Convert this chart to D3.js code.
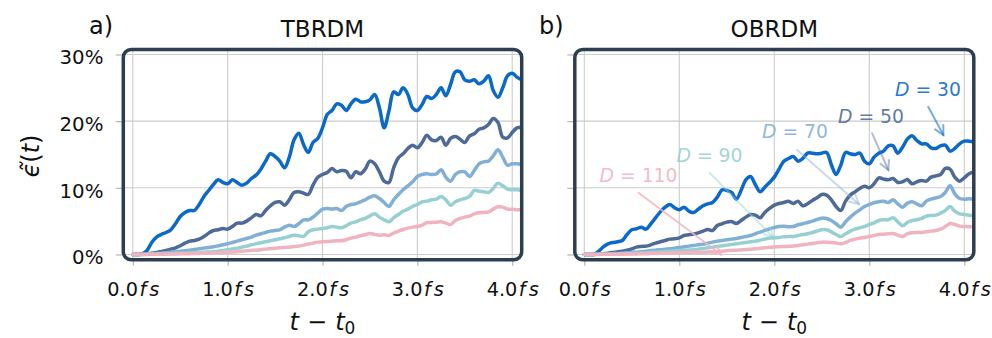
<!DOCTYPE html>
<html>
<head>
<meta charset="utf-8">
<script src="https://cdn.jsdelivr.net/npm/d3@7"></script>
<style>
  body { margin: 0; background: #fff; }
  svg { display: block; font-family: "DejaVu Sans", sans-serif; }
</style>
</head>
<body>
<svg id="chart" width="992" height="338"></svg>
<script>
// ---- data -------------------------------------------------------------
// sampling grid of the propagation, t - t0 in fs
const tStep = 0.05;
const timeFs = d3.range(83).map(i => +(i * tStep).toFixed(2));

const xTickValues = [0, 1, 2, 3, 4];
const yTickValues = [0, 10, 20, 30];
const dLabels = [30, 50, 70, 90, 110];
const lineColors = ["#0a69c9", "#4d6a99", "#82afd6", "#97d0d2", "#f0b4c1"];

// relative error (%) for the TBRDM propagation
const tbrdmD30 = [0,0,0.1,0.6,1.8,2.6,3.0,3.3,3.7,4.6,
  5.7,6.3,6.6,6.6,7.5,8.7,9.6,10.5,11.2,10.8,
  10.6,11.2,10.8,10.4,10.7,11.4,11.9,12.8,14.0,15.1,
  14.7,14.0,13.0,14.6,17.2,18.2,16.5,15.3,16.8,17.4,
  19.0,21.0,21.6,22.6,22.4,21.6,22.6,23.3,22.9,22.9,
  23.2,24.0,22.0,19.0,21.5,24.4,24.0,25.0,24.0,22.0,
  21.6,22.5,23.7,23.4,24.0,25.0,23.8,25.5,27.4,27.4,
  26.2,26.0,26.2,25.6,26.0,26.8,24.6,23.6,25.0,26.8,
  27.2,26.6,26.2];
const tbrdmD50 = [0,0,0.05,0.1,0.2,0.3,0.45,0.6,0.8,1.0,
  1.3,1.7,2.0,2.1,2.3,2.7,3.2,3.6,3.7,3.9,
  3.8,4.2,4.7,4.7,5.0,5.5,6.0,5.8,6.6,7.3,
  7.8,7.9,7.4,8.2,9.3,9.4,9.2,9.0,10.4,11.6,
  12.0,12.3,12.9,12.4,12.6,12.5,11.5,12.4,12.1,12.8,
  14.0,13.6,12.4,11.0,10.8,13.0,14.5,15.1,15.9,16.4,
  16.0,16.8,17.9,17.2,17.1,17.6,16.4,17.4,17.7,17.3,
  16.8,17.8,18.1,18.8,19.0,19.5,20.4,19.8,17.6,17.5,
  18.3,19.0,19.1];
const tbrdmD70 = [0,0,0.02,0.05,0.09,0.14,0.2,0.26,0.33,0.4,
  0.48,0.56,0.65,0.75,0.85,0.95,1.05,1.15,1.3,1.45,
  1.6,1.8,2.0,2.2,2.4,2.6,2.9,3.1,3.3,3.5,
  3.6,3.7,4.1,4.4,4.2,4.6,5.2,5.2,5.6,6.2,
  6.8,6.9,6.8,6.9,6.6,7.2,7.5,7.6,7.9,8.2,
  8.6,8.8,8.4,7.8,7.2,8.2,9.0,9.7,10.3,10.9,
  11.7,12.0,12.1,12.0,12.1,12.7,11.6,11.0,12.0,12.4,
  12.4,11.7,12.6,13.6,13.9,14.0,14.8,15.7,14.6,13.4,
  13.6,13.6,13.5];
const tbrdmD90 = [0,0,0.01,0.02,0.03,0.05,0.07,0.09,0.11,0.14,
  0.17,0.2,0.23,0.27,0.3,0.33,0.37,0.42,0.5,0.6,
  0.7,0.82,0.95,1.1,1.25,1.45,1.6,1.75,1.9,2.05,
  2.2,2.35,2.5,2.7,2.9,2.8,2.7,3.4,3.7,3.8,
  3.9,4.0,4.2,4.1,4.0,4.3,4.7,4.9,5.2,5.4,
  5.8,6.1,5.6,5.2,4.9,5.5,6.0,6.5,6.8,7.2,
  7.5,7.9,8.0,8.2,8.3,8.7,8.2,7.4,7.9,8.2,
  8.4,8.7,9.6,9.5,9.4,9.3,9.9,10.7,10.3,9.8,
  9.7,9.7,9.6];
const tbrdmD110 = [0,0,0.01,0.01,0.02,0.03,0.04,0.05,0.06,0.07,
  0.09,0.1,0.12,0.14,0.16,0.18,0.2,0.23,0.26,0.3,
  0.33,0.37,0.42,0.48,0.54,0.6,0.65,0.72,0.8,0.87,
  0.93,1.0,1.05,1.1,1.18,1.26,1.4,1.55,1.7,1.85,
  1.9,1.95,2.0,2.05,2.05,2.2,2.45,2.6,2.8,2.95,
  3.15,3.0,2.9,2.95,2.85,3.2,3.5,3.75,3.95,4.1,
  4.2,4.4,4.75,4.8,4.85,4.9,4.7,4.5,5.1,5.4,
  5.6,5.75,6.1,6.25,6.3,6.4,6.8,7.15,7.1,6.8,
  6.8,6.7,6.7];

// relative error (%) for the OBRDM propagation
const obrdmD30 = [0,0,0,0.45,1.15,1.6,1.8,1.9,2.1,3.0,
  3.7,3.85,4.1,3.8,4.6,5.5,6.4,7.1,7.5,7.0,
  6.7,7.1,6.5,6.3,6.8,7.3,7.6,7.8,8.6,9.7,
  9.6,9.3,8.3,9.6,11.2,11.7,10.5,9.4,10.1,10.8,
  11.6,12.8,14.0,14.4,14.7,14.0,14.4,15.2,15.2,15.1,
  15.2,15.3,13.5,12.0,13.4,15.3,15.1,15.0,15.2,14.0,
  13.6,14.6,15.2,15.5,16.3,16.3,15.2,16.1,17.3,17.8,
  17.1,16.6,16.6,16.0,15.9,16.3,16.4,15.5,15.9,16.6,
  17.0,17.0,16.9];
const obrdmD50 = [0,0,0.02,0.05,0.1,0.18,0.28,0.4,0.5,0.65,
  0.85,1.1,1.2,1.25,1.45,1.7,1.9,2.1,2.3,2.35,
  2.5,2.85,2.95,3.05,3.25,3.5,3.75,3.6,4.35,4.6,
  4.85,4.95,4.65,5.1,5.6,6.0,5.9,5.5,6.3,6.9,
  7.4,7.65,7.8,8.0,7.65,8.0,7.3,7.6,8.1,8.5,
  9.0,8.9,8.2,7.2,6.6,8.0,8.9,9.4,9.9,10.25,
  10.0,10.6,11.5,11.3,11.2,11.4,10.8,10.9,11.25,10.6,
  10.9,11.1,11.0,11.6,11.8,12.0,12.9,12.8,11.6,11.0,
  11.5,12.1,12.4];
const obrdmD70 = [0,0,0.01,0.03,0.05,0.08,0.12,0.16,0.2,0.25,
  0.3,0.35,0.42,0.5,0.58,0.65,0.72,0.8,0.85,0.95,
  1.05,1.15,1.25,1.35,1.45,1.55,1.7,1.85,2.0,2.1,
  2.2,2.3,2.4,2.55,2.7,2.85,3.1,3.35,3.6,3.85,
  4.05,4.2,4.25,4.15,4.2,4.45,4.6,4.8,5.0,5.25,
  5.45,5.4,5.1,4.6,4.1,4.9,5.6,6.2,6.7,7.2,
  7.5,7.75,7.9,8.0,7.8,8.2,7.6,7.1,7.7,7.9,
  7.6,7.3,8.0,8.3,8.5,8.7,9.3,10.3,9.1,8.4,
  8.3,8.35,8.3];
const obrdmD90 = [0,0,0.01,0.02,0.03,0.04,0.06,0.08,0.1,0.12,
  0.15,0.18,0.21,0.25,0.29,0.33,0.38,0.43,0.48,0.53,
  0.58,0.62,0.66,0.7,0.8,0.9,1.0,1.1,1.2,1.3,
  1.4,1.5,1.6,1.7,1.8,1.9,2.0,2.15,2.3,2.45,
  2.5,2.55,2.65,2.7,2.7,2.85,3.0,3.1,3.3,3.5,
  3.7,3.7,3.4,3.0,2.7,3.1,3.5,3.8,4.0,4.2,
  4.5,4.75,5.1,5.2,5.2,5.5,4.9,4.3,4.8,5.1,
  5.2,5.4,5.75,5.85,5.9,6.2,6.6,7.2,6.5,6.1,
  6.0,5.9,5.85];
const obrdmD110 = [0,0,0.01,0.01,0.02,0.02,0.03,0.04,0.05,0.06,
  0.07,0.08,0.1,0.11,0.13,0.15,0.17,0.19,0.21,0.23,
  0.25,0.27,0.29,0.31,0.33,0.35,0.38,0.41,0.45,0.5,
  0.55,0.6,0.64,0.68,0.72,0.78,0.85,0.92,1.0,1.08,
  1.13,1.17,1.2,1.22,1.27,1.35,1.45,1.55,1.65,1.75,
  1.85,1.85,1.8,1.72,1.6,1.8,2.1,2.3,2.45,2.55,
  2.7,2.85,3.0,3.05,3.1,3.15,2.9,2.7,3.1,3.25,
  3.3,3.3,3.4,3.5,3.6,3.8,4.2,4.65,4.5,4.25,
  4.2,4.15,4.15];

// label positions and arrow targets in data units (t in fs, error in %)
const obrdmNotes = [
  { d: 30,  text: [3.27, 23.77], from: [3.62, 22.17], to: [3.78, 17.92], alpha: 0.55 },
  { d: 50,  text: [2.67, 19.68], from: [3.03, 18.18], to: [3.20, 12.67], alpha: 0.45 },
  { d: 70,  text: [1.87, 17.43], from: [2.24, 15.67], to: [2.89, 7.57],  alpha: 0.45 },
  { d: 90,  text: [0.97, 13.83], from: [1.32, 12.22], to: [1.99, 2.58],  alpha: 0.45 },
  { d: 110, text: [0.16, 10.92], from: [0.57, 9.27],  to: [1.44, 0.0],   alpha: 0.8 }
];

// ---- layout -----------------------------------------------------------
const svg = d3.select("#chart");
const FONT = "DejaVu Sans";
const frameTop = 49.5, frameBottom = 259.8;
const panels = [
  { tag: "a)", tagX: 89, title: "TBRDM", x0: 123.3, x1: 521.7, yLabels: true,
    series: [tbrdmD30, tbrdmD50, tbrdmD70, tbrdmD90, tbrdmD110], notes: [] },
  { tag: "b)", tagX: 539, title: "OBRDM", x0: 574.8, x1: 973.8, yLabels: false,
    series: [obrdmD30, obrdmD50, obrdmD70, obrdmD90, obrdmD110], notes: obrdmNotes }
];

const defs = svg.append("defs");

panels.forEach((p, pi) => {
  const x = d3.scaleLinear().domain([-0.1, 4.1]).range([p.x0, p.x1]);
  const y = d3.scaleLinear().domain([-0.8, 30.75]).range([frameBottom, frameTop]);
  const g = svg.append("g");
  const cx = (p.x0 + p.x1) / 2;

  // grid
  g.append("g").selectAll("line").data(xTickValues).join("line")
    .attr("x1", d => x(d)).attr("x2", d => x(d))
    .attr("y1", frameTop).attr("y2", frameBottom)
    .attr("stroke", "#cccccc").attr("stroke-width", 1.1);
  g.append("g").selectAll("line").data(yTickValues).join("line")
    .attr("x1", p.x0).attr("x2", p.x1)
    .attr("y1", d => y(d)).attr("y2", d => y(d))
    .attr("stroke", "#cccccc").attr("stroke-width", 1.1);

  // x axis
  const xa = g.append("g").attr("transform", `translate(0,${frameBottom})`)
    .call(d3.axisBottom(x).tickValues(xTickValues).tickSize(6).tickSizeOuter(0));
  xa.select(".domain").remove();
  xa.selectAll(".tick line").attr("stroke", "#b0b0b0").attr("stroke-width", 1.1);
  xa.selectAll(".tick text").each(function(d) {
    const t = d3.select(this).text(null)
      .attr("y", 36.5).attr("dy", null)
      .attr("font-family", FONT).attr("font-size", 19.3).attr("fill", "#111");
    t.append("tspan").text(d3.format(".1f")(d));
    t.append("tspan").attr("font-style", "italic").attr("dx", 1.5).text("f");
    t.append("tspan").attr("font-style", "italic").attr("dx", 3).text("s");
  });

  // y axis
  const ya = g.append("g").attr("transform", `translate(${p.x0 - 1.5},0)`)
    .call(d3.axisLeft(y).tickValues(yTickValues).tickSize(6).tickSizeOuter(0)
      .tickFormat(d => p.yLabels ? d + "%" : ""));
  ya.select(".domain").remove();
  ya.selectAll(".tick line").attr("stroke", "#b0b0b0").attr("stroke-width", 1.1);
  ya.selectAll(".tick text")
    .attr("x", -18.3).attr("dy", null).attr("y", 9.5)
    .attr("font-family", FONT).attr("font-size", 19.8).attr("fill", "#111");

  // curves
  const clipId = "plot-clip-" + pi;
  defs.append("clipPath").attr("id", clipId).append("rect")
    .attr("x", p.x0).attr("y", frameTop)
    .attr("width", p.x1 - p.x0).attr("height", frameBottom - frameTop);
  const line = d3.line()
    .x((d, i) => x(timeFs[i]))
    .y(d => y(d))
    .curve(d3.curveCatmullRom.alpha(0.5));
  g.append("g").attr("clip-path", `url(#${clipId})`)
    .selectAll("path").data(p.series).join("path")
    .attr("d", line)
    .attr("fill", "none")
    .attr("stroke", (d, i) => lineColors[i])
    .attr("stroke-width", 3.5)
    .attr("stroke-linejoin", "round")
    .attr("stroke-linecap", "round");

  // annotations
  p.notes.forEach(n => {
    const ci = dLabels.indexOf(n.d);
    const col = lineColors[ci];
    const x1 = x(n.from[0]), y1 = y(n.from[1]);
    const x2 = x(n.to[0]), y2 = y(n.to[1]);
    const ang = Math.atan2(y2 - y1, x2 - x1);
    const hl = 10, ha = Math.PI / 6.5;
    const ag = g.append("g").attr("stroke", col).attr("stroke-opacity", n.alpha)
      .attr("stroke-width", 2).attr("fill", "none").attr("stroke-linecap", "round");
    ag.append("line").attr("x1", x1).attr("y1", y1).attr("x2", x2).attr("y2", y2);
    ag.append("path").attr("d",
      `M${x2 - hl * Math.cos(ang - ha)},${y2 - hl * Math.sin(ang - ha)}` +
      `L${x2},${y2}` +
      `L${x2 - hl * Math.cos(ang + ha)},${y2 - hl * Math.sin(ang + ha)}`);
    const txt = g.append("text")
      .attr("x", x(n.text[0])).attr("y", y(n.text[1]))
      .attr("font-family", FONT).attr("font-size", 18.8)
      .attr("fill", col).attr("fill-opacity", 0.9);
    txt.append("tspan").attr("font-style", "italic").text("D");
    txt.append("tspan").text(" = " + n.d);
  });

  // frame
  g.append("rect")
    .attr("x", p.x0).attr("y", frameTop)
    .attr("width", p.x1 - p.x0).attr("height", frameBottom - frameTop)
    .attr("rx", 8).attr("ry", 8)
    .attr("fill", "none").attr("stroke", "#2d3e50").attr("stroke-width", 3.5);

  // title, panel tag, x label
  g.append("text").attr("x", cx).attr("y", 37.3).attr("text-anchor", "middle")
    .attr("font-family", FONT).attr("font-size", 23).attr("fill", "#111").text(p.title);
  g.append("text").attr("x", p.tagX).attr("y", 33.5)
    .attr("font-family", FONT).attr("font-size", 24).attr("fill", "#111").text(p.tag);
  const xl = g.append("text").attr("x", cx).attr("y", 330).attr("text-anchor", "middle")
    .attr("font-family", FONT).attr("font-size", 24).attr("fill", "#111");
  xl.append("tspan").attr("font-style", "italic").text("t");
  xl.append("tspan").attr("dx", 8).text("\u2212");
  xl.append("tspan").attr("dx", 8).attr("font-style", "italic").text("t");
  xl.append("tspan").attr("font-size", 17).attr("dy", 4).text("0");
});

// y label
const yl = svg.append("text")
  .attr("transform", "translate(39,156) rotate(-90)")
  .attr("text-anchor", "middle")
  .attr("font-family", FONT).attr("font-size", 24).attr("fill", "#111");
yl.append("tspan").attr("font-style", "italic").text("\u03F5\u0303");
yl.append("tspan").text("(");
yl.append("tspan").attr("font-style", "italic").text("t");
yl.append("tspan").text(")");
</script>
</body>
</html>
